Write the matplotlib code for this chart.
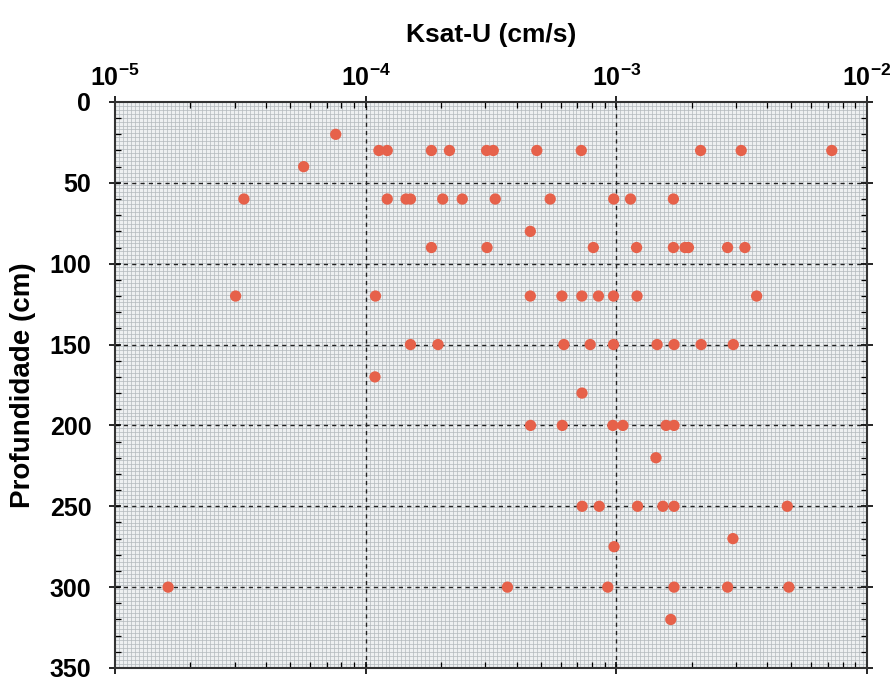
import numpy as np
import matplotlib
matplotlib.use("Agg")
import matplotlib.pyplot as plt
from matplotlib.ticker import FixedLocator, FixedFormatter, NullFormatter

plt.rcParams['font.family'] = ['Liberation Sans', 'DejaVu Sans']
plt.rcParams['font.weight'] = 'bold'
plt.rcParams['mathtext.fontset'] = 'custom'
plt.rcParams['mathtext.rm'] = 'Liberation Sans:bold'
plt.rcParams['mathtext.it'] = 'Liberation Sans:bold'
plt.rcParams['mathtext.bf'] = 'Liberation Sans:bold'

# Saturated hydraulic conductivity (cm/s) and sampling depth (cm)
ksat = [
    7.6e-5, 5.66e-5,
    1.13e-4, 1.22e-4, 1.83e-4, 2.16e-4, 3.04e-4, 3.23e-4, 4.82e-4, 7.25e-4, 2.17e-3, 3.15e-3, 7.24e-3,
    3.27e-5, 1.22e-4, 1.45e-4, 1.51e-4, 2.03e-4, 2.43e-4, 3.29e-4, 5.45e-4, 9.77e-4, 1.14e-3, 1.69e-3,
    4.54e-4,
    1.83e-4, 3.05e-4, 8.1e-4, 1.205e-3, 1.69e-3, 1.88e-3, 1.94e-3, 2.78e-3, 3.26e-3,
    3.03e-5, 1.095e-4, 4.54e-4, 6.07e-4, 7.29e-4, 8.49e-4, 9.75e-4, 1.21e-3, 3.63e-3,
    1.51e-4, 1.945e-4, 6.18e-4, 7.87e-4, 9.75e-4, 1.455e-3, 1.70e-3, 2.18e-3, 2.93e-3,
    1.09e-4, 7.3e-4,
    4.55e-4, 6.09e-4, 9.69e-4, 1.063e-3, 1.58e-3, 1.70e-3,
    1.44e-3,
    7.31e-4, 8.55e-4, 1.216e-3, 1.535e-3, 1.70e-3, 4.81e-3,
    2.92e-3, 9.8e-4,
    1.63e-5, 3.68e-4, 9.25e-4, 1.70e-3, 2.78e-3, 4.88e-3,
    1.65e-3,
]
depth = [
    20, 40,
    30, 30, 30, 30, 30, 30, 30, 30, 30, 30, 30,
    60, 60, 60, 60, 60, 60, 60, 60, 60, 60, 60,
    80,
    90, 90, 90, 90, 90, 90, 90, 90, 90,
    120, 120, 120, 120, 120, 120, 120, 120, 120,
    150, 150, 150, 150, 150, 150, 150, 150, 150,
    170, 180,
    200, 200, 200, 200, 200, 200,
    220,
    250, 250, 250, 250, 250, 250,
    270, 275,
    300, 300, 300, 300, 300, 300,
    320,
]

x_ticks = [1e-5, 1e-4, 1e-3, 1e-2]
x_tick_labels = ['$10^{-5}$', '$10^{-4}$', '$10^{-3}$', '$10^{-2}$']
y_ticks = [0, 50, 100, 150, 200, 250, 300, 350]
y_tick_labels = ['0', '50', '100', '150', '200', '250', '300', '350']

fig = plt.figure(figsize=(8.91, 6.84), dpi=100)
ax = fig.add_axes([0.129, 0.0234, 0.844, 0.8275])
ax.set_xscale('log')
ax.set_xlim(1e-5, 1e-2)
ax.set_ylim(350, 0)
ax.set_facecolor('#eef0f1')

# fine graph-paper texture
ax.vlines(np.linspace(0, 1, 190), 0, 1, transform=ax.transAxes,
          colors='#b3b8bc', linewidth=0.5, zorder=0)
ax.hlines(np.linspace(0, 1, 145), 0, 1, transform=ax.transAxes,
          colors='#b3b8bc', linewidth=0.5, zorder=0)

# dashed major grid
for yv in y_ticks[1:-1]:
    ax.axhline(yv, color='#222222', linestyle=(0, (3, 3)), linewidth=1.0, zorder=1)
for xv in x_ticks[1:-1]:
    ax.axvline(xv, color='#222222', linestyle=(0, (3, 3)), linewidth=1.0, zorder=1)

ax.scatter(ksat, depth, s=66, color='#e6614a', edgecolors='none', zorder=3)

ax.xaxis.set_major_locator(FixedLocator(x_ticks))
ax.xaxis.set_major_formatter(FixedFormatter(x_tick_labels))
minor_x = [m * 10.0 ** e for e in (-5, -4, -3) for m in range(2, 10)]
ax.xaxis.set_minor_locator(FixedLocator(minor_x))
ax.xaxis.set_minor_formatter(NullFormatter())
ax.yaxis.set_major_locator(FixedLocator(y_ticks))
ax.yaxis.set_major_formatter(FixedFormatter(y_tick_labels))
ax.yaxis.set_minor_locator(FixedLocator(list(range(0, 351, 10))))

ax.tick_params(which='major', direction='inout', length=8, width=1.2,
               top=True, bottom=True, left=True, right=True,
               labeltop=True, labelbottom=False, labelleft=True, labelright=False)
ax.tick_params(which='minor', direction='in', length=4, width=0.9,
               top=True, bottom=True, left=True, right=True)
ax.tick_params(axis='x', which='major', labelsize=18, pad=4)
ax.tick_params(axis='y', which='major', labelsize=18, pad=13)

for sp in ax.spines.values():
    sp.set_linewidth(1.5)
    sp.set_color('#333333')

ax.set_xlabel('Ksat-U (cm/s)', fontsize=19, fontweight='bold', labelpad=16)
ax.xaxis.set_label_position('top')
ax.set_ylabel('Profundidade (cm)', fontsize=20, fontweight='bold', labelpad=10)

fig.savefig('out.png', dpi=100, facecolor='white')
